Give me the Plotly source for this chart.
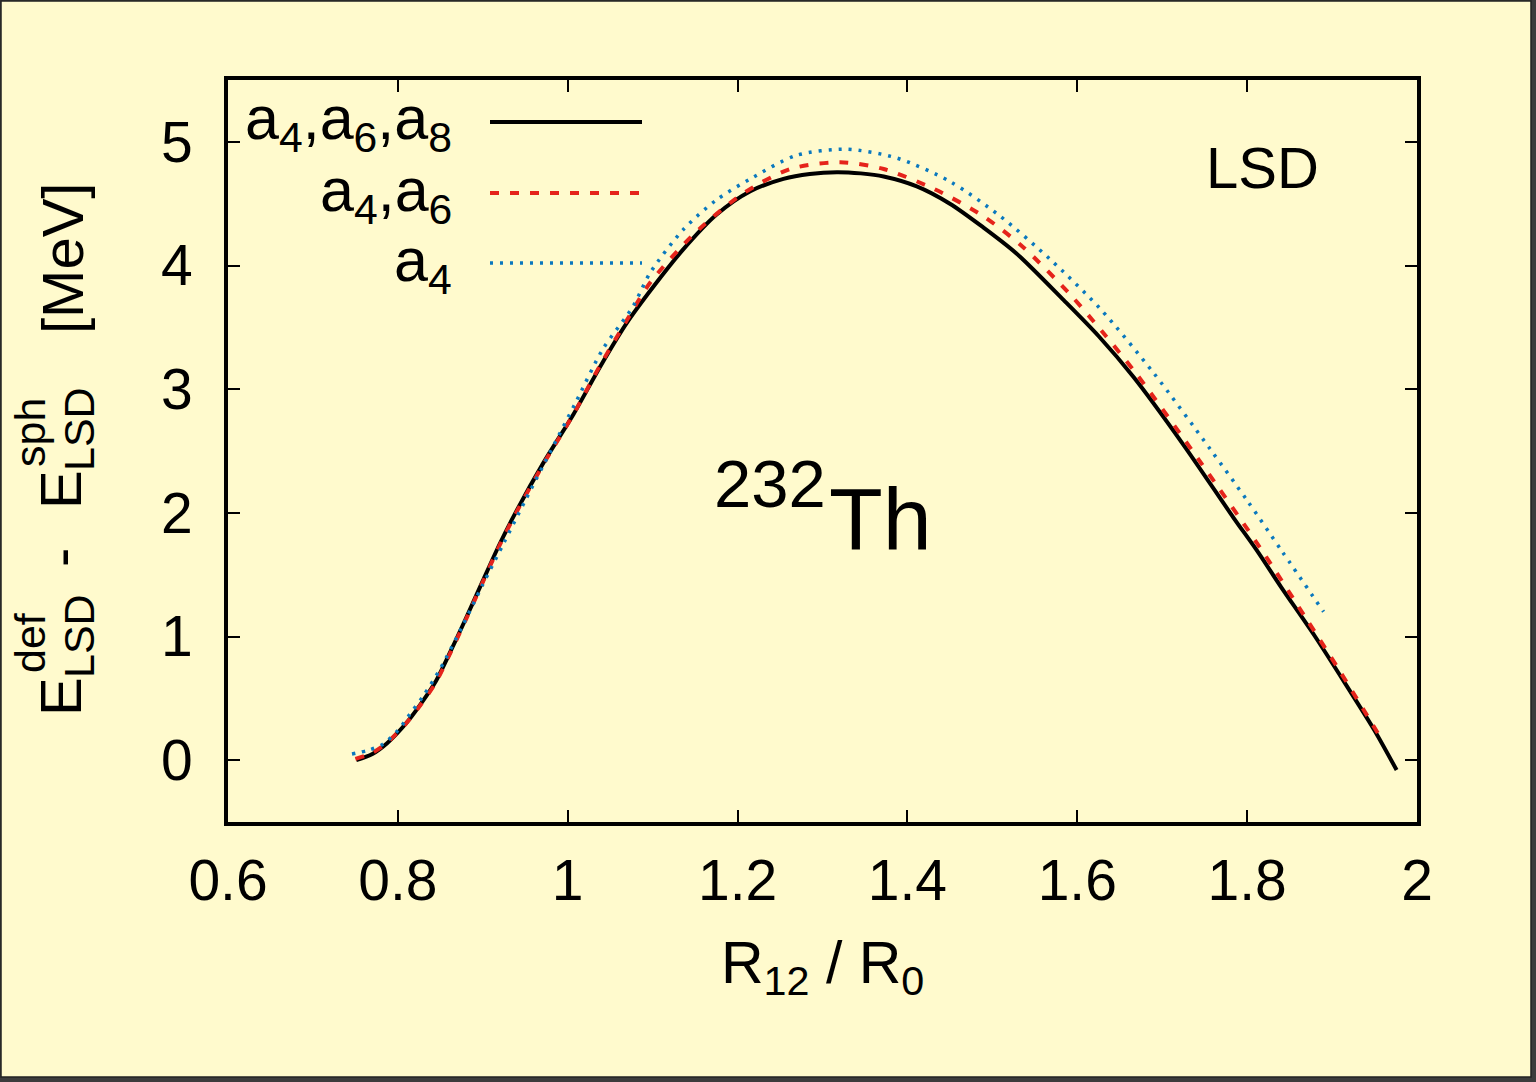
import plotly.graph_objects as go

# ---- data ----
x_a468 = [0.751, 0.770, 0.787, 0.810, 0.826, 0.844, 0.862, 0.881, 0.900, 0.920, 0.940,
          0.971, 1.007, 1.038, 1.069, 1.101, 1.136, 1.175, 1.215, 1.254, 1.285, 1.317,
          1.345, 1.372, 1.411, 1.450, 1.489, 1.528, 1.584, 1.625, 1.666, 1.725, 1.784,
          1.811, 1.840, 1.880, 1.920, 1.950, 1.976]
y_a468 = [0.00, 0.05, 0.135, 0.30, 0.445, 0.63, 0.88, 1.16, 1.45, 1.75, 2.02,
          2.40, 2.80, 3.18, 3.53, 3.83, 4.13, 4.41, 4.60, 4.70, 4.74, 4.755,
          4.745, 4.72, 4.64, 4.50, 4.31, 4.10, 3.72, 3.43, 3.10, 2.55, 1.96,
          1.70, 1.40, 1.00, 0.57, 0.24, -0.08]

x_a46 = [0.750, 0.770, 0.787, 0.810, 0.826, 0.844, 0.862, 0.881, 0.900, 0.920, 0.940,
         0.971, 1.007, 1.038, 1.069, 1.097, 1.148, 1.206, 1.262, 1.321, 1.372, 1.431,
         1.489, 1.536, 1.591, 1.630, 1.670, 1.744, 1.815, 1.870, 1.910, 1.960]
y_a46 = [0.01, 0.06, 0.14, 0.30, 0.44, 0.62, 0.87, 1.15, 1.44, 1.74, 2.01,
         2.39, 2.80, 3.19, 3.55, 3.86, 4.25, 4.58, 4.78, 4.835, 4.78, 4.62,
         4.40, 4.15, 3.77, 3.46, 3.12, 2.42, 1.72, 1.14, 0.71, 0.15]

x_a4 = [0.746, 0.765, 0.782, 0.800, 0.814, 0.830, 0.850, 0.875, 0.900, 0.925, 0.950,
        0.980, 1.010, 1.041, 1.077, 1.097, 1.136, 1.175, 1.215, 1.269, 1.328, 1.387,
        1.450, 1.509, 1.568, 1.627, 1.690, 1.756, 1.800, 1.841, 1.890]
y_a4 = [0.05, 0.08, 0.127, 0.24, 0.37, 0.52, 0.74, 1.07, 1.42, 1.76, 2.10,
        2.50, 2.90, 3.32, 3.67, 3.94, 4.29, 4.53, 4.70, 4.89, 4.94, 4.87,
        4.68, 4.40, 4.05, 3.65, 3.13, 2.52, 2.10, 1.69, 1.20]

x_ticks = [0.6, 0.8, 1.0, 1.2, 1.4, 1.6, 1.8, 2.0]
x_tick_labels = ["0.6", "0.8", "1", "1.2", "1.4", "1.6", "1.8", "2"]
y_ticks = [0, 1, 2, 3, 4, 5]
y_tick_labels = ["0", "1", "2", "3", "4", "5"]

series_names = ["a<sub>4</sub>,a<sub>6</sub>,a<sub>8</sub>", "a<sub>4</sub>,a<sub>6</sub>", "a<sub>4</sub>"]

# ---- styling ----
W, H = 1536, 1082
L, R, T, B = 228, 1417, 80, 822
BG = "#fffacd"
FONT = "Liberation Sans"
BLACK, RED, BLUE = "#000000", "#e5231b", "#0a78be"
styles = [dict(color=BLACK, width=4, dash="solid"),
          dict(color=RED, width=4, dash="9px,11px"),
          dict(color=BLUE, width=3.5, dash="3px,7px")]


def px(x):
    return (x - L) / (R - L)


def py(y):
    return (B - y) / (B - T)


fig = go.Figure()
for xs, ys, st, nm in zip([x_a468, x_a46, x_a4], [y_a468, y_a46, y_a4], styles, series_names):
    fig.add_trace(go.Scatter(x=xs, y=ys, mode="lines", line=dict(shape="spline", smoothing=0.8, **st),
                             name=nm, showlegend=False))

shapes = []
# outer frame with shadow
shapes.append(dict(type="rect", xref="paper", yref="paper", x0=px(1), x1=px(1531), y0=py(1), y1=py(1077),
                   fillcolor=BG, line=dict(color="#222222", width=1.5), layer="below"))
# legend samples
leg_y = [122, 193, 263]
for yy, st in zip(leg_y, styles):
    shapes.append(dict(type="line", xref="paper", yref="paper", x0=px(490), x1=px(642), y0=py(yy), y1=py(yy),
                       line=dict(color=st["color"], width=st["width"], dash=st["dash"])))

ann = []
for yy, nm in zip(leg_y, series_names):
    ann.append(dict(xref="paper", yref="paper", x=px(454), y=py(yy + 1), xanchor="right", yanchor="middle",
                    text=nm, showarrow=False, font=dict(family=FONT, size=61, color="black")))

ann.append(dict(xref="paper", yref="paper", x=px(1262), y=py(168), xanchor="center", yanchor="middle",
                text="LSD", showarrow=False, font=dict(family=FONT, size=58, color="black")))
ann.append(dict(xref="paper", yref="paper", x=px(770), y=py(484), xanchor="center", yanchor="middle",
                text="232", showarrow=False, font=dict(family=FONT, size=67, color="black")))
ann.append(dict(xref="paper", yref="paper", x=px(880), y=py(518), xanchor="center", yanchor="middle",
                text="Th", showarrow=False, font=dict(family=FONT, size=88, color="black")))
ann.append(dict(xref="paper", yref="paper", x=px(822), y=py(967), xanchor="center", yanchor="middle",
                text="R<sub>12</sub> / R<sub>0</sub>", showarrow=False, font=dict(family=FONT, size=59, color="black")))

# y-axis title built from rotated pieces (stacked super/subscripts)
ytitle = [("E", 60, 697, 58), ("def", 30, 643, 43), ("LSD", 79, 636, 43), ("-", 60, 558, 58),
          ("E", 60, 490, 58), ("sph", 30, 433, 43), ("LSD", 79, 429, 43), ("[MeV]", 62, 258, 58)]
for txt, xx, yy, sz in ytitle:
    ann.append(dict(xref="paper", yref="paper", x=px(xx), y=py(yy), xanchor="center", yanchor="middle",
                    text=txt, textangle=-90, showarrow=False, font=dict(family=FONT, size=sz, color="black")))

axis_common = dict(showline=True, linecolor="black", linewidth=4, mirror="allticks", ticks="inside",
                   ticklen=12, tickwidth=2, tickcolor="black", showgrid=False, zeroline=False,
                   tickfont=dict(family=FONT, size=57, color="black"))

fig.update_layout(
    width=W, height=H,
    margin=dict(l=L, r=W - R, t=T, b=H - B, pad=0),
    paper_bgcolor="#3c3c3c",
    plot_bgcolor=BG,
    shapes=shapes,
    annotations=ann,
    xaxis=dict(range=[0.6, 2.0], tickvals=x_ticks, ticktext=x_tick_labels, ticklabelstandoff=6, **axis_common),
    yaxis=dict(range=[-0.5, 5.5], tickvals=y_ticks, ticktext=y_tick_labels, ticklabelstandoff=20, **axis_common),
)

fig.write_html("out.html")
